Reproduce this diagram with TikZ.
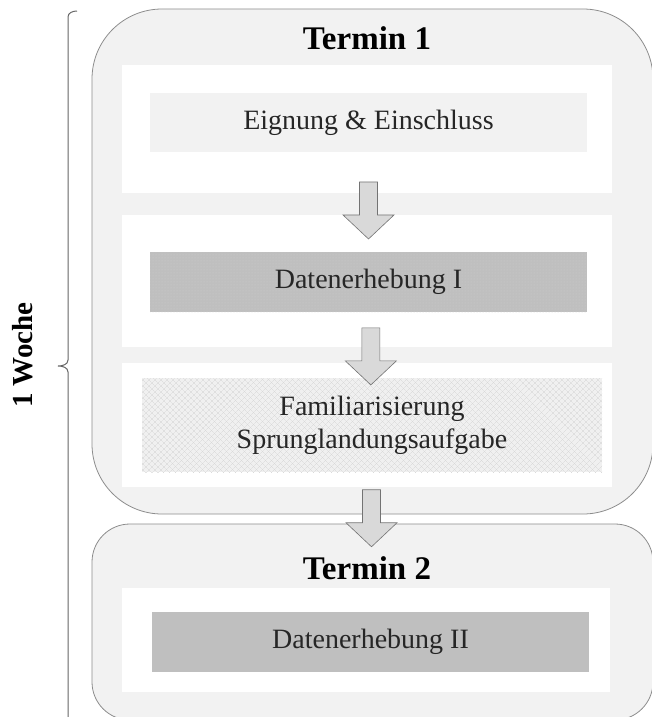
\documentclass[tikz,border=0pt]{standalone}
\usepackage{fontspec}
\setmainfont{Liberation Serif}
\usetikzlibrary{patterns.meta}

\tikzset{
  termin/.style={draw=black!45, fill=black!5, line width=0.8pt},
  panel/.style={fill=white},
  stepbox/.style={rectangle, inner sep=0pt, text=black!85, align=center,
    font=\fontsize{28}{33}\selectfont},
  title/.style={font=\fontsize{33}{36}\selectfont\bfseries},
  downarrow/.pic={
    \filldraw[draw=black!55, fill=black!15, line width=0.6pt]
      (-9, -28.5) -- (9, -28.5) -- (9, 4.5) -- (25.5, 4.5) -- (0, 28.5)
      -- (-25.5, 4.5) -- (-9, 4.5) -- cycle;
  }
}

\begin{document}
\begin{tikzpicture}[x=1pt, y=-1pt]
\useasboundingbox (0, 0) rectangle (652, 717);
%Week bracket
\draw[black!60, line width=1pt] (77, 11) to[out=180, in=90] (68, 17) -- (68, 360)
  to[out=-90, in=0] (58, 366) to[out=0, in=90] (68, 372) -- (68, 720);
\node[rotate=90, font=\fontsize{29}{32}\selectfont\bfseries] (woche) at (23, 355) {1 Woche};
%Termin 1
\filldraw[termin, rounded corners=70pt] (92, 9) rectangle (653, 514);
\node[title] (t1) at (367, 38) {Termin 1};
\fill[panel] (122, 65) rectangle (612, 193);
\fill[panel] (122, 215) rectangle (612, 347);
\fill[panel] (122, 363) rectangle (612, 487);
\node[stepbox, fill=black!5, minimum width=437pt, minimum height=59pt] (eig) at (368.5, 122.5) {Eignung \& Einschluss};
\node[stepbox, fill=black!25,
  postaction={pattern={Dots[radius=0.5pt, distance=3pt]}, pattern color=black!20},
  minimum width=437pt, minimum height=60pt] (dat1) at (368.5, 282) {Datenerhebung I};
\node[stepbox, fill=black!6,
  postaction={pattern={Lines[angle=45, distance=4pt, line width=0.4pt]}, pattern color=black!16},
  postaction={pattern={Lines[angle=-45, distance=4pt, line width=0.4pt]}, pattern color=black!16},
  minimum width=460pt, minimum height=94pt] (fam) at (372, 425) {Familiarisierung\\Sprunglandungsaufgabe};
%Termin 2
\filldraw[termin, rounded corners=38pt] (92, 524) rectangle (653, 720);
\node[title] (t2) at (367, 568) {Termin 2};
\fill[panel] (122, 588) rectangle (610, 692);
\node[stepbox, fill=black!25, minimum width=437pt, minimum height=60pt] (dat2) at (370.5, 642) {Datenerhebung II};
%Arrows
\path (eig.south) -- (dat1.north) coordinate[pos=0.585] (a1);
\path (dat1.south) -- (fam.north) coordinate[pos=0.674] (a2);
\path (fam.south) -- (dat2.north) coordinate[pos=0.33] (a3);
\pic at (a1) {downarrow};
\pic at (a2) {downarrow};
\pic at (a3) {downarrow};
\end{tikzpicture}
\end{document}
